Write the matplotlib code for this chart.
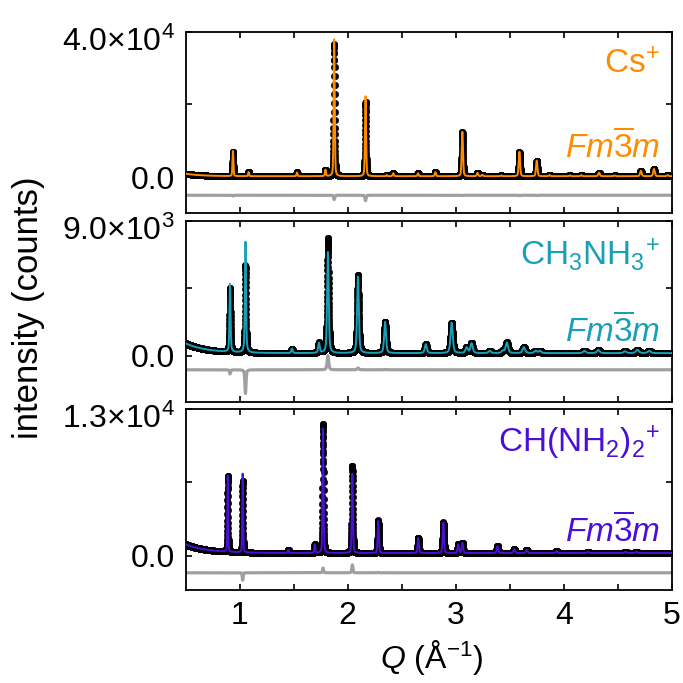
import numpy as np
import matplotlib
matplotlib.use('Agg')
import matplotlib.pyplot as plt
import matplotlib.transforms as mtransforms

plt.rcParams['font.family'] = ['Liberation Sans', 'DejaVu Sans']
plt.rcParams['mathtext.fontset'] = 'custom'
plt.rcParams['mathtext.rm'] = 'Liberation Sans'
plt.rcParams['mathtext.it'] = 'Liberation Sans:italic'
plt.rcParams['mathtext.bf'] = 'Liberation Sans:bold'

# ---------------- data ----------------
q_range = (0.5, 5.0)
q_step = 0.0006

# Cs+  (orange)
cs_q   = [0.937, 1.082, 1.530, 1.793, 1.874, 2.164, 2.361, 2.420, 2.650, 2.810,
          3.060, 3.200, 3.245, 3.420, 3.588, 3.748, 3.866, 4.055, 4.160, 4.325,
          4.470, 4.712, 4.833, 4.960]
cs_obs = [6700, 1150, 1050, 1750, 36400, 20500, 300, 800, 800, 1100,
          12100, 900, 400, 200, 6600, 4200, 300, 250, 300, 1000,
          200, 1500, 2000, 300]
cs_fit = [6900, 1150, 1050, 1750, 37600, 22000, 300, 800, 800, 1100,
          12200, 900, 400, 200, 6700, 4300, 300, 250, 300, 1000,
          200, 1500, 2000, 300]
cs_bg = (275, 690, 0.15)          # constant, low-Q amplitude, decay
cs_width = (0.008, 0.002, 0.3)    # fwhm = a + b*Q, lorentz fraction
cs_diff_offset = -4950
cs_ylim = (-9800, 40000)

# CH3NH3+  (teal)
ma_q   = [0.910, 1.053, 1.483, 1.733, 1.816, 2.094, 2.345, 2.722, 2.961, 3.100,
          3.145, 3.313, 3.435, 3.472, 3.629, 3.738, 3.778, 4.190, 4.318, 4.565,
          4.680, 4.790]
ma_obs = [4260, 5820, 300, 670, 7700, 5220, 2100, 590, 2030, 370,
          650, 150, 150, 700, 390, 150, 150, 150, 200, 120,
          220, 150]
ma_fit = [4540, 7400, 300, 670, 6750, 5100, 2080, 590, 2030, 370,
          650, 150, 150, 700, 390, 150, 150, 150, 200, 120,
          220, 150]
ma_bg = (160, 650, 0.2)
ma_width = (0.006, 0.006, 0.5)
ma_diff_offset = -950
ma_ylim = (-3100, 9000)

# CH(NH2)2+  (purple)
fa_q   = [0.889, 1.027, 1.449, 1.694, 1.771, 2.042, 2.282, 2.652, 2.884, 3.022,
          3.060, 3.385, 3.540, 3.655, 3.930, 4.220, 4.570, 4.670]
fa_obs = [6750, 6310, 300, 750, 11430, 7720, 2890, 1330, 2700, 750,
          900, 600, 330, 280, 150, 100, 100, 100]
fa_fit = [6750, 6970, 300, 750, 11000, 7020, 2850, 1330, 2700, 750,
          900, 600, 330, 280, 150, 100, 100, 100]
fa_bg = (260, 760, 0.2)
fa_width = (0.006, 0.003, 0.3)
fa_diff_offset = -1490
fa_ylim = (-3040, 13000)

labels = ['Cs$^{+}$', 'CH$_3$NH$_3$$^{+}$', 'CH(NH$_2$)$_2$$^{+}$']
colors = ['#FF8C00', '#1A9FB8', '#4A10D8']
top_tick_labels = ['4.0×10$^{4}$', '9.0×10$^{3}$', '1.3×10$^{4}$']
space_group = r'$\mathit{Fm}\overline{\mathit{3}}\mathit{m}$'
sg_ypos = [0.364, 0.387, 0.323]
x_ticks = [1, 2, 3, 4, 5]


def profile(q, centers, heights, width, bg):
    a, b, eta = width
    c0, amp, dec = bg
    y = c0 + amp * np.exp(-(q - q_range[0]) / dec)
    for c, h in zip(centers, heights):
        f = a + b * c
        x = (q - c) / f
        y = y + h * (eta / (1 + 4 * x ** 2) + (1 - eta) * np.exp(-4 * np.log(2) * x ** 2))
    return y


q = np.arange(q_range[0], q_range[1] + q_step / 2, q_step)

panels = [
    (cs_q, cs_obs, cs_fit, cs_bg, cs_width, cs_diff_offset, cs_ylim),
    (ma_q, ma_obs, ma_fit, ma_bg, ma_width, ma_diff_offset, ma_ylim),
    (fa_q, fa_obs, fa_fit, fa_bg, fa_width, fa_diff_offset, fa_ylim),
]

fig = plt.figure(figsize=(6.83, 6.83), dpi=100)
W = 683.0
left, right = 185.7 / W, 672.0 / W
tops = [31.6, 220.7, 409.0]
h = 181.3

for i, (pq, pobs, pfit, bg, width, doff, ylim) in enumerate(panels):
    ax = fig.add_axes([left, 1 - (tops[i] + h) / W, right - left, h / W])
    obs = profile(q, pq, pobs, width, bg)
    fit = profile(q, pq, pfit, width, bg)
    diff = obs - fit + doff
    ax.plot(q, diff, color='#a0a0a0', lw=2.3, zorder=1)
    ax.plot(q, obs, 'o', color='black', ms=4.6, mew=0.4, zorder=2)
    ax.plot(q, fit, color=colors[i], lw=1.4, zorder=3)
    ax.set_xlim(*q_range)
    ax.set_ylim(*ylim)
    top = ylim[1]
    ax.set_yticks([0, top])
    ax.set_yticklabels(['0.0', top_tick_labels[i]])
    ax.set_yticks([top / 2], minor=True)
    ax.set_xticks(x_ticks)
    ax.set_xticks([1.5, 2.5, 3.5, 4.5], minor=True)
    ax.tick_params(which='both', direction='in', top=True, right=True,
                   length=4.5, width=1.2, labelsize=23, pad=8)
    for s in ax.spines.values():
        s.set_linewidth(1.3)
    if i < 2:
        ax.tick_params(labelbottom=False)
    # top tick label sits a little lower than its tick in the original
    lab = ax.get_yticklabels()[1]
    lab.set_transform(lab.get_transform() +
                      mtransforms.ScaledTranslation(0, -7 / 100, fig.dpi_scale_trans))
    ax.text(0.975, 0.815, labels[i], transform=ax.transAxes, ha='right',
            va='center', color=colors[i], fontsize=24)
    ax.text(0.975, sg_ypos[i], space_group, transform=ax.transAxes, ha='right',
            va='center', color=colors[i], fontsize=24)

fig.text(0.042, 0.55, 'intensity (counts)', rotation=90, ha='center',
         va='center', fontsize=25)
fig.text(0.632, 0.038, '$Q$ (Å$^{-1}$)', ha='center', va='center', fontsize=23)

fig.savefig('out.png', dpi=100)
